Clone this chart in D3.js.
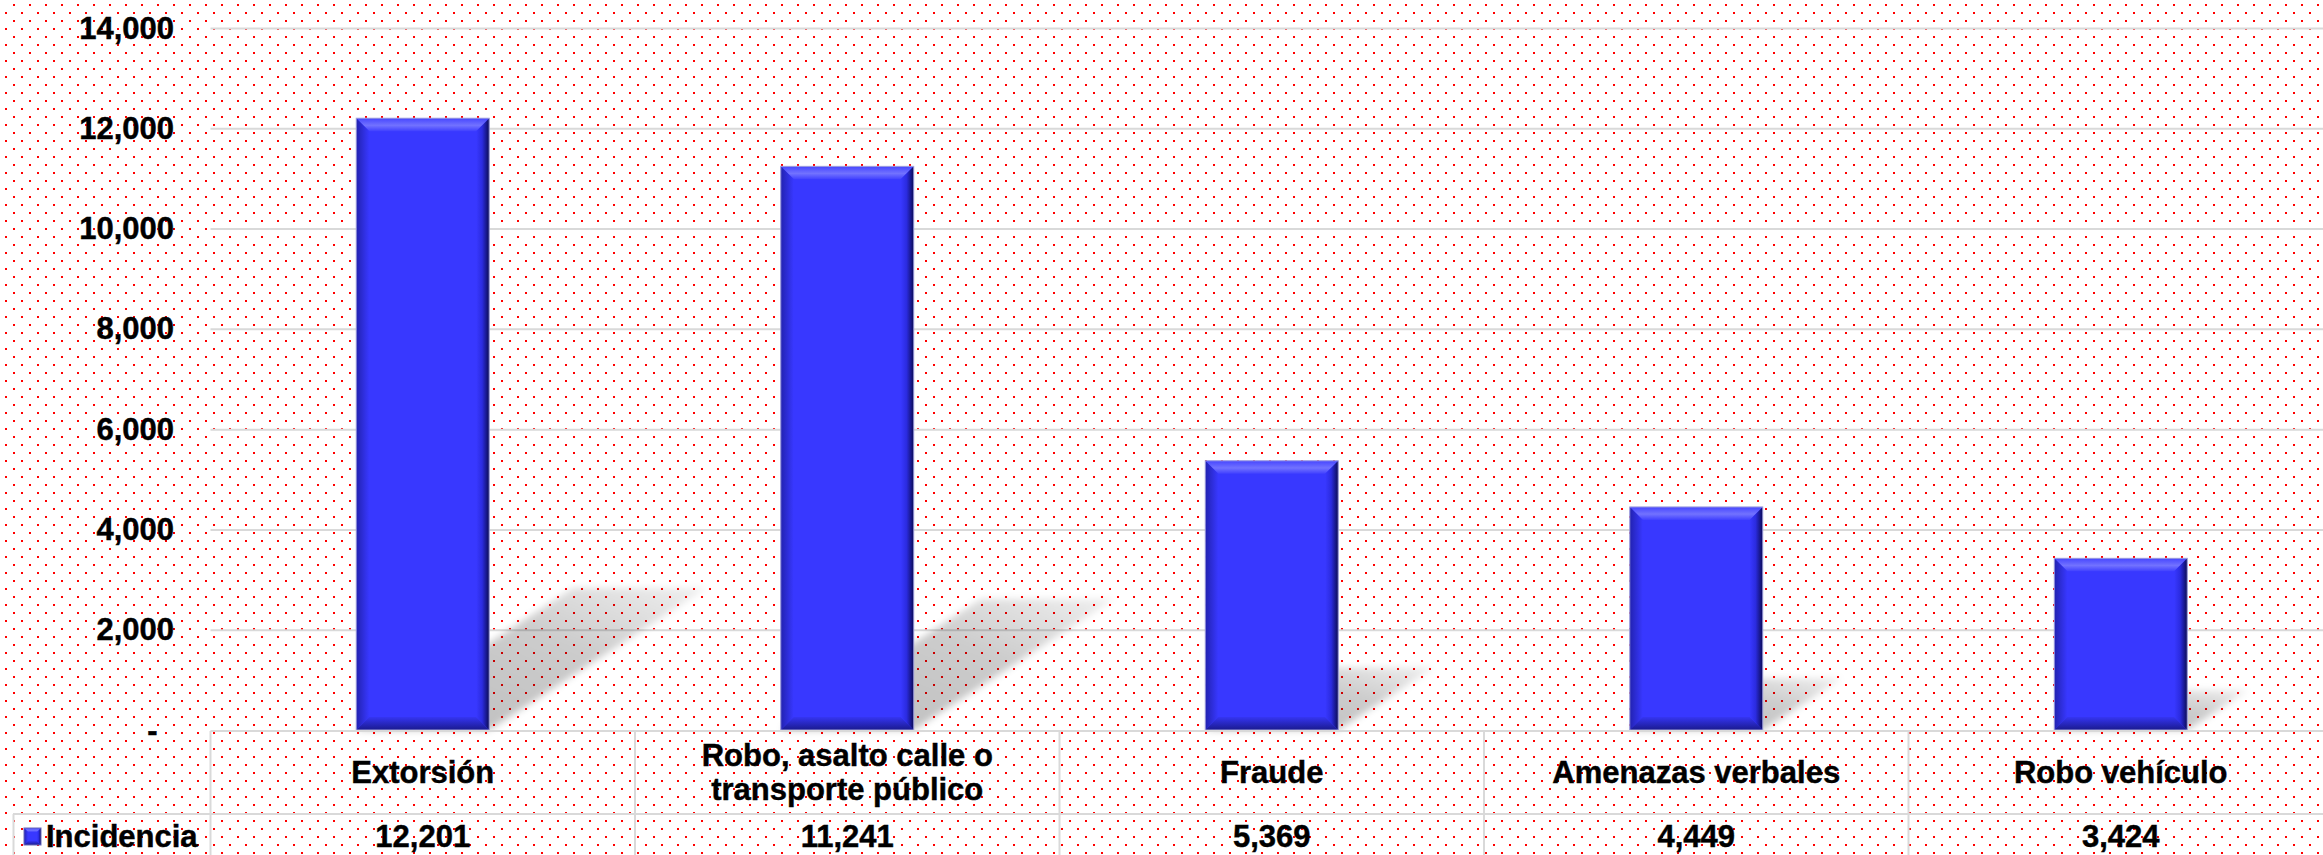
<!DOCTYPE html>
<html>
<head>
<meta charset="utf-8">
<script src="https://cdn.jsdelivr.net/npm/d3@7"></script>
<style>
  html, body { margin: 0; padding: 0; background: #fff; overflow: hidden; }
  svg { display: block; }
  text { font-family: "Liberation Sans", Arial, sans-serif; font-weight: bold; fill: #000; stroke: #000; stroke-width: 0.45px; }
</style>
</head>
<body>
<div id="chart"></div>
<script>
// --- データ ---
const categories = ["Extorsión", "Robo, asalto calle o transporte público", "Fraude", "Amenazas verbales", "Robo vehículo"];
const categoryLines = [["Extorsión"], ["Robo, asalto calle o", "transporte público"], ["Fraude"], ["Amenazas verbales"], ["Robo vehículo"]];
const incidencia = [12201, 11241, 5369, 4449, 3424];
const yTicks = [0, 2000, 4000, 6000, 8000, 10000, 12000, 14000];
const seriesName = "Incidencia";

// --- レイアウト ---
const W = 2323, H = 855;
const plotLeft = 210.5, colStep = 424.5;
const row1Top = 731, row2Top = 814;
const fontSize = 31;

const svg = d3.select("#chart").append("svg")
  .attr("width", W)
  .attr("height", H);

const defs = svg.append("defs");

// 背景の赤いドット
const pat = defs.append("pattern")
  .attr("id", "dots")
  .attr("width", 16).attr("height", 16)
  .attr("patternUnits", "userSpaceOnUse");
pat.append("rect").attr("width", 16).attr("height", 16).attr("fill", "#fff");
pat.append("rect").attr("x", 13).attr("y", 4).attr("width", 2).attr("height", 2).attr("fill", "#ff0000");
pat.append("rect").attr("x", 5).attr("y", 12).attr("width", 2).attr("height", 2).attr("fill", "#ff0000");

function linGrad(id, x2, y2, stops) {
  const lg = defs.append("linearGradient").attr("id", id)
    .attr("x1", 0).attr("y1", 0).attr("x2", x2).attr("y2", y2);
  stops.forEach(s => lg.append("stop").attr("offset", s[0]).attr("stop-color", s[1]).attr("stop-opacity", s[2] == null ? 1 : s[2]));
}
linGrad("bvTop", 0, 1, [[0, "#4646ff"], [0.55, "#7272ff"], [1, "#4040ff"]]);
linGrad("bvRight", 1, 0, [[0, "#3838ff"], [0.45, "#2b2be0"], [1, "#0b0b55"]]);
linGrad("bvBottom", 0, 1, [[0, "#3535f2"], [1, "#1a1a8e"]]);
linGrad("bvLeft", 1, 0, [[0, "#2222b0"], [1, "#3838ff"]]);

// 影（奥に向かって薄くなる）
const sg = defs.append("linearGradient").attr("id", "shadowGrad")
  .attr("x1", 0).attr("y1", 1).attr("x2", 1).attr("y2", 0);
sg.append("stop").attr("offset", 0).attr("stop-color", "#000").attr("stop-opacity", 0.26);
sg.append("stop").attr("offset", 0.6).attr("stop-color", "#000").attr("stop-opacity", 0.2);
sg.append("stop").attr("offset", 1).attr("stop-color", "#000").attr("stop-opacity", 0.06);
defs.append("filter").attr("id", "blur")
  .attr("x", "-20%").attr("y", "-20%").attr("width", "140%").attr("height", "140%")
  .append("feGaussianBlur").attr("stdDeviation", 3.5);

svg.append("rect").attr("width", W).attr("height", H).attr("fill", "url(#dots)");

// --- スケール ---
const y = d3.scaleLinear().domain([0, 14000]).range([730, 28]);
const xCol = d3.scaleBand().domain(categories).range([plotLeft, plotLeft + colStep * categories.length]);
const x = d3.scaleBand().domain(categories)
  .range([plotLeft, plotLeft + colStep * categories.length])
  .paddingInner(0.6867).paddingOuter(0.3433);

// グリッド線
const grid = svg.append("g")
  .attr("transform", `translate(${plotLeft},0)`)
  .call(d3.axisLeft(y).tickValues(yTicks.filter(d => d > 0)).tickSize(-(W - plotLeft)).tickFormat(""));
grid.select(".domain").remove();
grid.selectAll("line").attr("stroke", "#d9d9d9").attr("stroke-width", 2);

// Y軸ラベル
const yAxis = svg.append("g")
  .attr("transform", "translate(174,0)")
  .call(d3.axisLeft(y).tickValues(yTicks).tickSize(0).tickPadding(0)
    .tickFormat(d => d === 0 ? "-" : d3.format(",")(d)));
yAxis.select(".domain").remove();
yAxis.selectAll("text")
  .attr("dy", 10)
  .attr("x", d => d === 0 ? -16.5 : 0)
  .attr("fill", "#000")
  .style("font-size", fontSize + "px")
  .style("font-family", '"Liberation Sans", Arial, sans-serif')
  .style("font-weight", "bold");

// --- 影 ---
const base = y(0);
svg.append("g").selectAll("polygon")
  .data(incidencia)
  .enter().append("polygon")
  .attr("points", (d, i) => {
    const x0 = x(categories[i]), x1 = x0 + x.bandwidth();
    const h = base - y(d);
    const dx = h * 0.355, dy = h * 0.232;
    return [[x0, base], [x1, base], [x1 + dx, base - dy], [x0 + dx, base - dy]].join(" ");
  })
  .attr("fill", "url(#shadowGrad)")
  .attr("filter", "url(#blur)");

// --- 棒（ベベル付き） ---
function bevelRect(sel, x0, y0, w, h, b, stroke) {
  const x1 = x0 + w, y1 = y0 + h;
  sel.append("rect").attr("x", x0).attr("y", y0).attr("width", w).attr("height", h).attr("fill", "#3838ff");
  sel.append("polygon").attr("points", [[x0, y0], [x1, y0], [x1 - b, y0 + b], [x0 + b, y0 + b]].join(" ")).attr("fill", "url(#bvTop)");
  sel.append("polygon").attr("points", [[x0, y0], [x0 + b, y0 + b], [x0 + b, y1 - b], [x0, y1]].join(" ")).attr("fill", "url(#bvLeft)");
  sel.append("polygon").attr("points", [[x0, y1], [x0 + b, y1 - b], [x1 - b, y1 - b], [x1, y1]].join(" ")).attr("fill", "url(#bvBottom)");
  sel.append("polygon").attr("points", [[x1, y0], [x1, y1], [x1 - b, y1 - b], [x1 - b, y0 + b]].join(" ")).attr("fill", "url(#bvRight)");
  sel.append("rect").attr("x", x0).attr("y", y0).attr("width", w).attr("height", h)
    .attr("fill", "none").attr("stroke", stroke).attr("stroke-width", 1);
}

svg.append("g").selectAll("g")
  .data(incidencia)
  .enter().append("g")
  .each(function(d, i) {
    bevelRect(d3.select(this), x(categories[i]), y(d), x.bandwidth(), base - y(d), 13, "#a4a4dc");
  });

// --- データテーブル ---
const tbl = svg.append("g").attr("stroke", "#d9d9d9").attr("stroke-width", 2);
tbl.append("line").attr("x1", plotLeft).attr("x2", W).attr("y1", row1Top).attr("y2", row1Top);
tbl.append("line").attr("x1", 13).attr("x2", W).attr("y1", row2Top).attr("y2", row2Top);
tbl.append("line").attr("x1", 13.5).attr("x2", 13.5).attr("y1", row2Top).attr("y2", H);
tbl.selectAll(".vline")
  .data(categories)
  .enter().append("line")
  .attr("class", "vline")
  .attr("x1", d => xCol(d)).attr("x2", d => xCol(d))
  .attr("y1", row1Top).attr("y2", H);

// カテゴリ名
const lineH = 34;
svg.append("g").selectAll("text")
  .data(categories)
  .enter().append("text")
  .attr("text-anchor", "middle")
  .style("font-size", fontSize + "px")
  .each(function(d, i) {
    const lines = categoryLines[i];
    const first = 783 - (lines.length - 1) * lineH / 2;
    d3.select(this).selectAll("tspan")
      .data(lines)
      .enter().append("tspan")
      .attr("x", xCol(d) + xCol.bandwidth() / 2)
      .attr("y", (l, k) => first + k * lineH)
      .text(l => l);
  });

// 値
svg.append("g").selectAll("text")
  .data(incidencia)
  .enter().append("text")
  .attr("text-anchor", "middle")
  .attr("x", (d, i) => xCol(categories[i]) + xCol.bandwidth() / 2)
  .attr("y", 847)
  .style("font-size", fontSize + "px")
  .text(d => d3.format(",")(d));

// 凡例
const leg = svg.append("g");
bevelRect(leg, 24, 828, 17, 17, 4, "#6a6ab8");
leg.append("text")
  .attr("x", 46).attr("y", 847)
  .style("font-size", fontSize + "px")
  .text(seriesName);
</script>
</body>
</html>
